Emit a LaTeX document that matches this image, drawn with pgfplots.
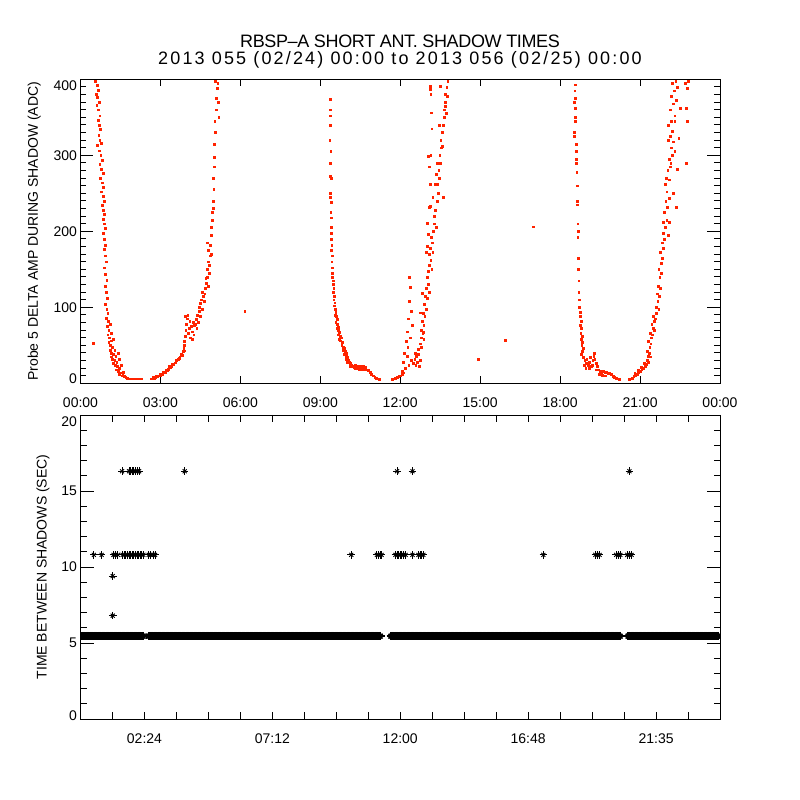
\documentclass[border=0pt]{standalone}
\usepackage{fontspec}
\setmainfont{Liberation Sans}
\usepackage{pgfplots}
\usepackage{pgfplotstable}
\pgfplotsset{compat=1.18}
\definecolor{dotred}{RGB}{255,35,0}
\pgfplotstableread[row sep=\\]{x y\\
0.05 5.45\\ 0.15 5.45\\ 0.25 5.45\\ 0.35 5.45\\ 0.45 5.45\\ 0.55 5.45\\ 0.65 5.45\\ 0.75 5.45\\ 0.85 5.45\\ 0.95 5.45\\
1.05 5.45\\ 1.15 5.45\\ 1.25 5.45\\ 1.35 5.45\\ 1.45 5.45\\ 1.55 5.45\\ 1.65 5.45\\ 1.75 5.45\\ 1.85 5.45\\ 1.95 5.45\\
2.05 5.45\\ 2.15 5.45\\ 2.25 5.45\\ 2.35 5.45\\
2.55 5.45\\ 2.65 5.45\\ 2.75 5.45\\ 2.85 5.45\\ 2.95 5.45\\ 3.05 5.45\\ 3.15 5.45\\ 3.25 5.45\\ 3.35 5.45\\ 3.45 5.45\\
3.55 5.45\\ 3.65 5.45\\ 3.75 5.45\\ 3.85 5.45\\ 3.95 5.45\\ 4.05 5.45\\ 4.15 5.45\\ 4.25 5.45\\ 4.35 5.45\\ 4.45 5.45\\
4.55 5.45\\ 4.65 5.45\\ 4.75 5.45\\ 4.85 5.45\\ 4.95 5.45\\ 5.05 5.45\\ 5.15 5.45\\ 5.25 5.45\\ 5.35 5.45\\ 5.45 5.45\\
5.55 5.45\\ 5.65 5.45\\ 5.75 5.45\\ 5.85 5.45\\ 5.95 5.45\\ 6.05 5.45\\ 6.15 5.45\\ 6.25 5.45\\ 6.35 5.45\\ 6.45 5.45\\
6.55 5.45\\ 6.65 5.45\\ 6.75 5.45\\ 6.85 5.45\\ 6.95 5.45\\ 7.05 5.45\\ 7.15 5.45\\ 7.25 5.45\\ 7.35 5.45\\ 7.45 5.45\\
7.55 5.45\\ 7.65 5.45\\ 7.75 5.45\\ 7.85 5.45\\ 7.95 5.45\\ 8.05 5.45\\ 8.15 5.45\\ 8.25 5.45\\ 8.35 5.45\\ 8.45 5.45\\
8.55 5.45\\ 8.65 5.45\\ 8.75 5.45\\ 8.85 5.45\\ 8.95 5.45\\ 9.05 5.45\\ 9.15 5.45\\ 9.25 5.45\\ 9.35 5.45\\ 9.45 5.45\\
9.55 5.45\\ 9.65 5.45\\ 9.75 5.45\\ 9.85 5.45\\ 9.95 5.45\\ 10.05 5.45\\ 10.15 5.45\\ 10.25 5.45\\ 10.35 5.45\\ 10.45 5.45\\
10.55 5.45\\ 10.65 5.45\\ 10.75 5.45\\ 10.85 5.45\\ 10.95 5.45\\ 11.05 5.45\\ 11.15 5.45\\ 11.25 5.45\\
11.65 5.45\\ 11.75 5.45\\ 11.85 5.45\\ 11.95 5.45\\ 12.05 5.45\\ 12.15 5.45\\ 12.25 5.45\\ 12.35 5.45\\ 12.45 5.45\\ 12.55 5.45\\
12.65 5.45\\ 12.75 5.45\\ 12.85 5.45\\ 12.95 5.45\\ 13.05 5.45\\ 13.15 5.45\\ 13.25 5.45\\ 13.35 5.45\\ 13.45 5.45\\ 13.55 5.45\\
13.65 5.45\\ 13.75 5.45\\ 13.85 5.45\\ 13.95 5.45\\ 14.05 5.45\\ 14.15 5.45\\ 14.25 5.45\\ 14.35 5.45\\ 14.45 5.45\\ 14.55 5.45\\
14.65 5.45\\ 14.75 5.45\\ 14.85 5.45\\ 14.95 5.45\\ 15.05 5.45\\ 15.15 5.45\\ 15.25 5.45\\ 15.35 5.45\\ 15.45 5.45\\ 15.55 5.45\\
15.65 5.45\\ 15.75 5.45\\ 15.85 5.45\\ 15.95 5.45\\ 16.05 5.45\\ 16.15 5.45\\ 16.25 5.45\\ 16.35 5.45\\ 16.45 5.45\\ 16.55 5.45\\
16.65 5.45\\ 16.75 5.45\\ 16.85 5.45\\ 16.95 5.45\\ 17.05 5.45\\ 17.15 5.45\\ 17.25 5.45\\ 17.35 5.45\\ 17.45 5.45\\ 17.55 5.45\\
17.65 5.45\\ 17.75 5.45\\ 17.85 5.45\\ 17.95 5.45\\ 18.05 5.45\\ 18.15 5.45\\ 18.25 5.45\\ 18.35 5.45\\ 18.45 5.45\\ 18.55 5.45\\
18.65 5.45\\ 18.75 5.45\\ 18.85 5.45\\ 18.95 5.45\\ 19.05 5.45\\ 19.15 5.45\\ 19.25 5.45\\ 19.35 5.45\\ 19.45 5.45\\ 19.55 5.45\\
19.65 5.45\\ 19.75 5.45\\ 19.85 5.45\\ 19.95 5.45\\ 20.05 5.45\\ 20.15 5.45\\ 20.25 5.45\\
20.55 5.45\\ 20.65 5.45\\ 20.75 5.45\\ 20.85 5.45\\ 20.95 5.45\\ 21.05 5.45\\ 21.15 5.45\\ 21.25 5.45\\ 21.35 5.45\\ 21.45 5.45\\
21.55 5.45\\ 21.65 5.45\\ 21.75 5.45\\ 21.85 5.45\\ 21.95 5.45\\ 22.05 5.45\\ 22.15 5.45\\ 22.25 5.45\\ 22.35 5.45\\ 22.45 5.45\\
22.55 5.45\\ 22.65 5.45\\ 22.75 5.45\\ 22.85 5.45\\ 22.95 5.45\\ 23.05 5.45\\ 23.15 5.45\\ 23.25 5.45\\ 23.35 5.45\\ 23.45 5.45\\
23.55 5.45\\ 23.65 5.45\\ 23.75 5.45\\ 23.85 5.45\\ 23.95 5.45\\
0.10 5.45\\ 0.20 5.45\\ 0.30 5.45\\ 0.40 5.45\\ 0.50 5.45\\ 0.60 5.45\\ 0.70 5.45\\ 0.80 5.45\\ 0.90 5.45\\ 1.00 5.45\\
1.10 5.45\\ 1.20 5.45\\ 1.30 5.45\\ 1.40 5.45\\ 1.50 5.45\\ 1.60 5.45\\ 1.70 5.45\\ 1.80 5.45\\ 1.90 5.45\\ 2.00 5.45\\
2.10 5.45\\ 2.20 5.45\\ 2.30 5.45\\
2.60 5.45\\ 2.70 5.45\\ 2.80 5.45\\ 2.90 5.45\\ 3.00 5.45\\ 3.10 5.45\\ 3.20 5.45\\ 3.30 5.45\\ 3.40 5.45\\ 3.50 5.45\\
3.60 5.45\\ 3.70 5.45\\ 3.80 5.45\\ 3.90 5.45\\ 4.00 5.45\\ 4.10 5.45\\ 4.20 5.45\\ 4.30 5.45\\ 4.40 5.45\\ 4.50 5.45\\
4.60 5.45\\ 4.70 5.45\\ 4.80 5.45\\ 4.90 5.45\\ 5.00 5.45\\ 5.10 5.45\\ 5.20 5.45\\ 5.30 5.45\\ 5.40 5.45\\ 5.50 5.45\\
5.60 5.45\\ 5.70 5.45\\ 5.80 5.45\\ 5.90 5.45\\ 6.00 5.45\\ 6.10 5.45\\ 6.20 5.45\\ 6.30 5.45\\ 6.40 5.45\\ 6.50 5.45\\
6.60 5.45\\ 6.70 5.45\\ 6.80 5.45\\ 6.90 5.45\\ 7.00 5.45\\ 7.10 5.45\\ 7.20 5.45\\ 7.30 5.45\\ 7.40 5.45\\ 7.50 5.45\\
7.60 5.45\\ 7.70 5.45\\ 7.80 5.45\\ 7.90 5.45\\ 8.00 5.45\\ 8.10 5.45\\ 8.20 5.45\\ 8.30 5.45\\ 8.40 5.45\\ 8.50 5.45\\
8.60 5.45\\ 8.70 5.45\\ 8.80 5.45\\ 8.90 5.45\\ 9.00 5.45\\ 9.10 5.45\\ 9.20 5.45\\ 9.30 5.45\\ 9.40 5.45\\ 9.50 5.45\\
9.60 5.45\\ 9.70 5.45\\ 9.80 5.45\\ 9.90 5.45\\ 10.00 5.45\\ 10.10 5.45\\ 10.20 5.45\\ 10.30 5.45\\ 10.40 5.45\\ 10.50 5.45\\
10.60 5.45\\ 10.70 5.45\\ 10.80 5.45\\ 10.90 5.45\\ 11.00 5.45\\ 11.10 5.45\\ 11.20 5.45\\
11.70 5.45\\ 11.80 5.45\\ 11.90 5.45\\ 12.00 5.45\\ 12.10 5.45\\ 12.20 5.45\\ 12.30 5.45\\ 12.40 5.45\\ 12.50 5.45\\ 12.60 5.45\\
12.70 5.45\\ 12.80 5.45\\ 12.90 5.45\\ 13.00 5.45\\ 13.10 5.45\\ 13.20 5.45\\ 13.30 5.45\\ 13.40 5.45\\ 13.50 5.45\\ 13.60 5.45\\
13.70 5.45\\ 13.80 5.45\\ 13.90 5.45\\ 14.00 5.45\\ 14.10 5.45\\ 14.20 5.45\\ 14.30 5.45\\ 14.40 5.45\\ 14.50 5.45\\ 14.60 5.45\\
14.70 5.45\\ 14.80 5.45\\ 14.90 5.45\\ 15.00 5.45\\ 15.10 5.45\\ 15.20 5.45\\ 15.30 5.45\\ 15.40 5.45\\ 15.50 5.45\\ 15.60 5.45\\
15.70 5.45\\ 15.80 5.45\\ 15.90 5.45\\ 16.00 5.45\\ 16.10 5.45\\ 16.20 5.45\\ 16.30 5.45\\ 16.40 5.45\\ 16.50 5.45\\ 16.60 5.45\\
16.70 5.45\\ 16.80 5.45\\ 16.90 5.45\\ 17.00 5.45\\ 17.10 5.45\\ 17.20 5.45\\ 17.30 5.45\\ 17.40 5.45\\ 17.50 5.45\\ 17.60 5.45\\
17.70 5.45\\ 17.80 5.45\\ 17.90 5.45\\ 18.00 5.45\\ 18.10 5.45\\ 18.20 5.45\\ 18.30 5.45\\ 18.40 5.45\\ 18.50 5.45\\ 18.60 5.45\\
18.70 5.45\\ 18.80 5.45\\ 18.90 5.45\\ 19.00 5.45\\ 19.10 5.45\\ 19.20 5.45\\ 19.30 5.45\\ 19.40 5.45\\ 19.50 5.45\\ 19.60 5.45\\
19.70 5.45\\ 19.80 5.45\\ 19.90 5.45\\ 20.00 5.45\\ 20.10 5.45\\ 20.20 5.45\\
20.60 5.45\\ 20.70 5.45\\ 20.80 5.45\\ 20.90 5.45\\ 21.00 5.45\\ 21.10 5.45\\ 21.20 5.45\\ 21.30 5.45\\ 21.40 5.45\\ 21.50 5.45\\
21.60 5.45\\ 21.70 5.45\\ 21.80 5.45\\ 21.90 5.45\\ 22.00 5.45\\ 22.10 5.45\\ 22.20 5.45\\ 22.30 5.45\\ 22.40 5.45\\ 22.50 5.45\\
22.60 5.45\\ 22.70 5.45\\ 22.80 5.45\\ 22.90 5.45\\ 23.00 5.45\\ 23.10 5.45\\ 23.20 5.45\\ 23.30 5.45\\ 23.40 5.45\\ 23.50 5.45\\
23.60 5.45\\ 23.70 5.45\\ 23.80 5.45\\ 23.90 5.45\\
}\bandtab
\pgfplotstableread[row sep=\\]{x y\\
0.50 10.8\\ 0.79 10.8\\ 1.24 10.8\\ 1.32 10.8\\ 1.40 10.8\\ 1.58 10.8\\ 1.64 10.8\\ 1.70 10.8\\ 1.76 10.8\\ 1.82 10.8\\
1.88 10.8\\ 1.94 10.8\\ 2.00 10.8\\ 2.06 10.8\\ 2.12 10.8\\ 2.18 10.8\\ 2.24 10.8\\ 2.30 10.8\\ 2.36 10.8\\
2.56 10.8\\ 2.64 10.8\\ 2.72 10.8\\ 2.80 10.8\\ 10.16 10.8\\ 11.12 10.8\\ 11.18 10.8\\ 11.24 10.8\\ 11.30 10.8\\
11.82 10.8\\ 11.88 10.8\\ 11.94 10.8\\ 12.00 10.8\\ 12.06 10.8\\ 12.12 10.8\\ 12.20 10.8\\ 12.46 10.8\\
12.68 10.8\\ 12.74 10.8\\ 12.80 10.8\\ 12.87 10.8\\ 17.37 10.8\\ 19.32 10.8\\ 19.40 10.8\\ 19.48 10.8\\
20.10 10.8\\ 20.18 10.8\\ 20.26 10.8\\ 20.52 10.8\\ 20.60 10.8\\ 20.68 10.8\\
1.56 16.3\\ 1.82 16.3\\ 1.88 16.3\\ 1.94 16.3\\ 2.00 16.3\\ 2.06 16.3\\ 2.12 16.3\\ 2.20 16.3\\
3.91 16.3\\ 11.88 16.3\\ 12.46 16.3\\ 20.60 16.3\\
1.21 9.4\\ 1.21 6.8\\
}\spiketab
\tikzset{titlefont/.style={font=\fontsize{18bp}{20bp}\selectfont}}
\pgfplotsset{idl/.style={
  scale only axis, width=639.5bp, height=304bp, anchor=south west,
  xmin=0, xmax=24,
  tick align=inside,
  major tick length=13bp, minor tick length=6bp,
  xtick style={/pgfplots/major tick length=7bp},
  every tick/.append style={black, line width=0.9bp},
  axis line style={line width=0.9bp},
  tick label style={font=\fontsize{14bp}{16bp}\selectfont},
  label style={font=\fontsize{14bp}{16bp}\selectfont},
  /pgf/number format/assume math mode=true,
  clip marker paths=true,
}}
\begin{document}
\begin{tikzpicture}
\useasboundingbox (0bp,0bp) rectangle (800bp,800bp);
\fill[white] (0bp,0bp) rectangle (800bp,800bp);
\node[titlefont] at (400bp,758.5bp) {\addfontfeature{LetterSpace=-2}RBSP--A SHORT ANT. SHADOW TIMES};
\node[titlefont] at (400bp,740bp) {\addfontfeature{LetterSpace=12}2013 055 (02/24) 00:00 to 2013 056 (02/25) 00:00};
\begin{axis}[idl, at={(80.5bp,416.7bp)},
  ymin=0, ymax=400,
  ytick={0,100,200,300,400}, minor y tick num=9,
  yticklabels={\raisebox{5bp}[\height][\depth]{0},100,200,300,\raisebox{-6.5bp}[\height][\depth]{400}},
  xtick={0,3,6,9,12,15,18,21,24},
  xticklabels={00:00,03:00,06:00,09:00,12:00,15:00,18:00,21:00,00:00},
  xticklabel shift=11bp,
  ylabel={Probe 5 DELTA AMP DURING SHADOW (ADC)},
  ylabel style={at={(axis description cs:-0.0725,0.5)}, anchor=center},
]
\addplot[only marks, mark=square*, mark size=0.9bp, color=dotred, mark options={draw=none, fill=dotred}] coordinates {
(0.56,398)(0.62,392)(0.66,386)(0.58,380)(0.64,376)(0.70,370)(0.61,366)(0.67,360)(0.72,352)(0.65,346)
(0.70,340)(0.74,334)(0.68,326)(0.72,320)(0.78,316)(0.62,313)(0.70,306)(0.76,300)(0.80,294)(0.72,288)
(0.78,282)(0.84,276)(0.74,270)(0.82,264)(0.86,258)(0.78,252)(0.84,246)(0.88,240)(0.80,234)(0.86,228)
(0.90,222)(0.84,216)(0.88,210)(0.92,204)(0.86,198)(0.90,190)(0.94,182)(0.88,176)(0.92,168)(0.96,160)
(0.90,152)(0.94,144)(0.98,136)(0.92,128)(0.96,120)(0.99,112)(0.94,104)(0.98,98)(1.02,92)(0.97,86)
(1.04,82)(1.10,78)(1.00,75)(1.06,70)(1.14,66)(1.02,64)(1.08,60)(1.16,56)(1.24,58)(1.06,54)
(1.12,50)(1.20,47)(1.28,44)(1.10,44)(1.16,40)(1.24,38)(1.32,36)(1.40,40)(1.14,35)(1.20,32)
(1.28,30)(1.36,28)(1.44,32)(1.22,26)(1.30,24)(1.38,22)(1.46,20)(1.52,24)(1.34,18)(1.42,16)
(1.50,14)(1.58,12)(1.46,12)(1.56,10)(1.64,9)(1.70,8)(1.60,15)(1.76,7)(1.82,6)(1.88,6)
(1.94,6)(2.00,6)(2.06,6)(2.12,6)(2.18,6)(2.24,6)(2.28,6)(0.48,53)(6.16,95)
(2.64,6)(2.70,6)(2.76,7)(2.82,8)(2.88,9)(2.94,10)(3.00,11)(3.06,12)(3.12,14)(3.18,15)
(3.24,17)(3.30,19)(3.36,21)(3.42,23)(3.48,25)(3.54,27)(3.60,30)(3.66,32)(3.72,35)(3.78,38)
(3.84,42)(3.87,46)(3.89,50)(2.73,8)(2.85,10)(2.97,12)(3.09,15)(3.21,18)(3.33,22)(3.45,25)
(3.57,29)(3.69,33)(3.81,37)(3.88,43)
(3.90,55)(3.92,62)(3.95,70)(3.98,78)(4.00,85)(4.02,90)(3.94,88)(4.05,66)(4.08,72)(4.12,60)
(4.15,75)(4.18,68)(4.22,80)(4.25,64)(4.28,76)(4.10,82)(4.20,58)
(4.30,78)(4.34,84)(4.38,90)(4.42,80)(4.46,95)(4.50,88)(4.36,72)(4.44,100)
(4.48,105)(4.52,110)(4.56,98)(4.60,115)(4.64,108)(4.58,120)(4.66,118)
(4.68,125)(4.72,132)(4.76,140)(4.70,138)(4.80,128)(4.82,145)
(4.74,150)(4.78,160)(4.84,155)(4.86,168)(4.80,175)(4.88,182)(4.90,170)(4.76,185)
(4.90,195)(4.92,205)(4.95,215)(4.93,225)(4.97,230)
(4.98,240)(5.00,255)(4.99,270)(5.01,285)(5.02,298)
(5.03,315)(5.06,330)(5.04,345)(5.10,360)(5.08,375)(5.12,388)(5.05,398)(5.15,395)(5.18,370)(5.19,350)
(9.38,374)(9.36,360)(9.38,352)(9.37,340)(9.35,320)(9.39,305)(9.36,290)(9.38,272)(9.40,270)(9.36,250)
(9.38,245)(9.40,238)(9.39,225)(9.41,218)(9.40,205)(9.42,198)(9.41,190)(9.43,182)(9.42,175)(9.44,168)
(9.43,160)(9.45,152)(9.46,145)(9.44,140)(9.47,135)(9.48,130)(9.50,125)(9.49,120)(9.52,115)(9.50,110)
(9.54,106)(9.52,102)(9.56,98)(9.58,94)(9.55,90)(9.60,88)(9.62,84)(9.58,80)(9.64,78)(9.66,74)
(9.62,72)(9.68,70)(9.72,67)(9.66,64)(9.74,62)(9.78,60)(9.70,58)(9.76,56)(9.82,54)(9.80,50)
(9.86,48)(9.90,46)(9.84,44)(9.92,42)(9.96,40)(9.90,38)(9.98,36)(10.02,34)(9.96,32)(10.04,30)
(10.08,28)(10.00,28)(10.12,26)(10.16,24)(10.10,22)(10.20,22)(10.26,21)(10.32,20)(10.38,20)(10.44,19)
(10.50,19)(10.56,19)(10.62,20)(10.68,19)(10.74,18)(10.30,24)(10.40,23)(10.50,22)(10.60,22)(10.70,21)
(10.80,17)(10.86,15)(10.92,12)(10.98,10)(11.04,8)(11.10,7)(11.16,6)(11.22,5)
(11.70,5)(11.76,6)(11.82,7)(11.88,8)(11.94,9)(12.00,10)(12.06,12)(12.10,14)
(12.08,16)(12.12,28)(12.15,40)(12.20,20)(12.22,55)(12.25,36)(12.26,68)(12.28,48)(12.30,85)(12.32,24)
(12.33,108)(12.35,140)(12.36,126)(12.38,60)(12.40,95)(12.42,30)(12.44,76)
(12.50,26)(12.54,32)(12.58,24)(12.60,36)(12.64,28)(12.68,38)(12.70,22)(12.74,30)(12.56,40)(12.66,45)
(12.76,52)(12.80,60)(12.78,70)(12.84,66)(12.82,82)(12.88,76)(12.86,92)(12.92,88)(12.90,104)(12.96,98)
(12.94,115)(13.00,112)(12.98,125)(13.04,130)(13.02,140)(13.08,120)(12.80,48)(12.88,58)
(13.06,148)(13.10,155)(13.14,162)(13.08,170)(13.18,150)(13.12,178)(13.20,185)(13.16,192)(13.24,200)(13.22,172)
(13.28,210)(13.26,220)(13.30,228)(13.34,205)(13.04,196)(13.00,180)
(13.38,240)(13.42,250)(13.40,262)(13.46,270)(13.44,280)(13.50,290)(13.48,300)(13.54,310)(13.52,320)(13.58,330)
(13.36,275)(13.60,245)
(13.62,340)(13.66,350)(13.64,360)(13.70,370)(13.68,380)(13.74,390)(13.78,398)(13.72,355)
(13.12,391)(13.14,380)(13.16,356)(13.18,335)(13.14,300)(13.10,285)(13.12,262)(13.08,232)
(13.13,387)(13.50,391)(13.06,299)(13.13,233)(13.00,211)(12.98,172)(12.81,119)(12.75,93)(12.88,67)
(13.38,290)(13.56,312)(13.69,365)(13.75,378)(13.30,262)(13.22,245)(13.45,340)
(17.00,206)(15.95,57)(14.94,32)
(18.56,393)(18.55,385)(18.57,375)(18.54,370)(18.56,362)(18.58,350)(18.57,345)(18.52,330)(18.54,325)(18.60,315)
(18.59,305)(18.61,295)(18.60,290)(18.62,278)(18.63,260)(18.64,240)(18.63,235)(18.66,210)(18.67,200)(18.66,192)
(18.68,165)(18.69,150)(18.70,135)(18.70,120)(18.71,110)(18.72,100)(18.74,94)
(18.76,88)(18.78,82)(18.75,76)(18.80,72)(18.77,66)(18.82,62)(18.79,58)(18.84,54)(18.81,50)(18.86,46)(18.83,42)
(18.80,38)(18.86,34)(18.92,30)(18.98,26)(19.04,24)(19.10,28)(19.16,22)(19.22,30)(19.26,36)(19.30,32)
(19.34,26)(19.38,22)(18.90,24)(19.00,32)(19.08,20)(19.20,24)(19.28,40)(19.36,18)(18.96,20)(19.12,34)
(19.44,18)(19.50,16)(19.56,15)(19.62,16)(19.68,14)(19.74,15)(19.80,13)(19.86,14)(19.92,12)(19.46,12)
(19.58,11)(19.70,10)(19.98,9)(20.04,8)(20.10,7)(20.16,6)(20.22,5)
(20.58,5)(20.64,6)(20.70,7)(20.76,9)(20.82,10)(20.88,12)(20.94,14)(21.00,16)(21.06,18)(21.12,20)
(21.18,22)(21.24,25)(20.80,13)(20.92,17)(21.04,21)(21.16,26)
(21.26,30)(21.30,36)(21.28,42)(21.34,40)(21.36,48)(21.32,55)(21.40,52)(21.42,60)(21.38,66)(21.46,64)
(21.48,72)(21.44,78)(21.52,70)(21.54,82)(21.50,88)(21.58,85)(21.60,92)(21.30,28)(21.40,35)
(21.62,100)(21.66,108)(21.70,98)(21.64,118)(21.72,115)(21.68,128)(21.76,125)(21.74,140)(21.70,150)(21.80,145)
(21.78,158)(21.84,165)(21.76,172)(21.86,178)(21.82,185)
(21.90,190)(21.86,198)(21.94,205)(21.88,212)(22.00,215)(21.92,225)(22.02,232)(21.96,240)(22.06,195)(22.10,244)
(22.00,252)(21.95,262)(22.08,268)(22.04,280)(22.14,285)(22.10,295)(22.20,300)(22.16,310)(22.24,318)(22.12,325)
(22.22,332)(22.30,305)
(22.06,340)(22.18,345)(22.30,352)(22.12,360)(22.24,368)(22.36,372)(22.16,378)(22.28,385)(22.40,390)(22.20,395)
(22.34,398)(22.70,395)(22.76,388)(22.72,362)(22.78,345)(22.74,290)(22.80,398)
(22.05,320)(22.30,345)(22.45,322)(22.15,290)(22.40,282)(22.52,362)(22.25,250)(22.35,232)(21.98,270)(22.10,212)
};
\end{axis}
\begin{axis}[idl, at={(80.5bp,81bp)},
  ymin=0, ymax=20,
  ytick={0,5,10,15,20}, minor y tick num=4,
  yticklabels={\raisebox{3.5bp}[\height][\depth]{0},5,10,15,\raisebox{-6.5bp}[\height][\depth]{20}},
  xtick={0,1.2,2.4,3.6,4.8,6,7.2,8.4,9.6,10.8,12,13.2,14.4,15.6,16.8,18,19.2,20.4,21.6,22.8,24},
  xticklabels={,,02:24,,,,07:12,,,,12:00,,,,16:48,,,,21:35,,},
  xticklabel shift=11bp,
  ylabel={TIME BETWEEN SHADOWS (SEC)},
  ylabel style={at={(axis description cs:-0.0586,0.5)}, anchor=center},
]
\addplot[only marks, black, mark=+, mark size=4.3bp, mark options={black, line width=1.6bp}] table {\bandtab};
\addplot[only marks, black, mark=x, mark size=3.4bp, mark options={black, line width=1.6bp}] table {\bandtab};
\addplot[only marks, black, mark=+, mark size=3.8bp, mark options={black, line width=0.9bp}] table {\spiketab};
\addplot[only marks, black, mark=x, mark size=2.8bp, mark options={black, line width=0.9bp}] table {\spiketab};
\end{axis}
\end{tikzpicture}
\end{document}
